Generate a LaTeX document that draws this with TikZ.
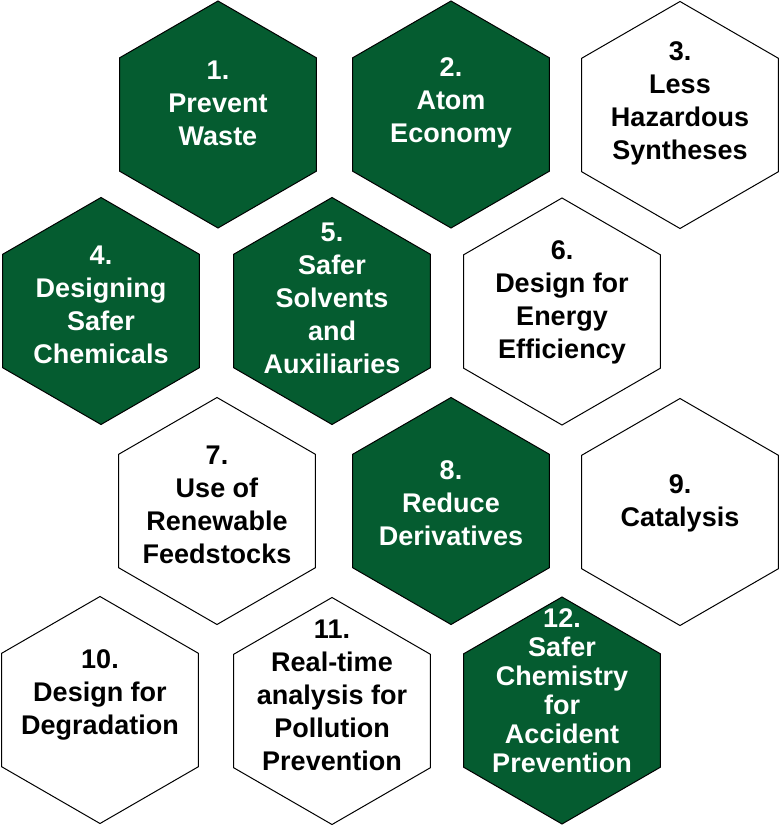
\documentclass[tikz,border=0pt]{standalone}
\usepackage{fontspec}
\setmainfont{Liberation Sans}
\usetikzlibrary{shapes.geometric}
\definecolor{hexgreen}{HTML}{055C30}

\tikzset{
    hexa/.style={regular polygon, regular polygon sides=6, shape border rotate=30,
        minimum size=227pt, inner sep=0pt, draw=black, line width=1pt},
    hexfull/.style={hexa, fill=hexgreen},
    hexopen/.style={hexa, fill=white},
    lbl/.style={align=center, font=\fontsize{27}{33}\selectfont\bfseries},
    lblw/.style={lbl, text=white},
}

\begin{document}
\begin{tikzpicture}[x=1pt, y=-1pt]
    \useasboundingbox (0,0) rectangle (780,826);
    % Rij 1
    \node[hexfull] (h1) at (218,114.5) {};
    \node[lblw] (t1) at (218,103.5) {1.\\Prevent\\Waste};
    \node[hexfull] (h2) at (451,114.5) {};
    \node[lblw] (t2) at (451,102.5) {2.\\Atom\\Economy};
    \node[hexopen] (h3) at (680,115) {};
    \node[lbl] (t3) at (680,103) {3.\\Less\\Hazardous\\Syntheses};
    % Rij 2
    \node[hexfull] (h4) at (101,311) {};
    \node[lblw] (t4) at (101,304.5) {4.\\Designing\\Safer\\Chemicals};
    \node[hexfull] (h5) at (332,311) {};
    \node[lblw] (t5) at (332,298.5) {5.\\Safer\\Solvents\\and\\Auxiliaries};
    \node[hexopen] (h6) at (562,311.5) {};
    \node[lbl] (t6) at (562,302) {6.\\Design for\\Energy\\Efficiency};
    % Rij 3
    \node[hexopen] (h7) at (217,511) {};
    \node[lbl] (t7) at (217,504.5) {7.\\Use of\\Renewable\\Feedstocks};
    \node[hexfull] (h8) at (451,511) {};
    \node[lblw] (t8) at (451,503.5) {8.\\Reduce\\Derivatives};
    \node[hexopen] (h9) at (680,512) {};
    \node[lbl] (t9) at (680,503.5) {9.\\Catalysis};
    % Rij 4
    \node[hexopen] (h10) at (100,710) {};
    \node[lbl] (t10) at (100,694.5) {10.\\Design for\\Degradation};
    \node[hexopen] (h11) at (332,711) {};
    \node[lbl] (t11) at (332,695.5) {11.\\Real-time\\analysis for\\Pollution\\Prevention};
    \node[hexfull] (h12) at (562,710.5) {};
    \node[lblw, font=\fontsize{27}{29}\selectfont\bfseries] (t12) at (562,690.5)
        {12.\\Safer\\Chemistry\\for\\Accident\\Prevention};
\end{tikzpicture}
\end{document}
